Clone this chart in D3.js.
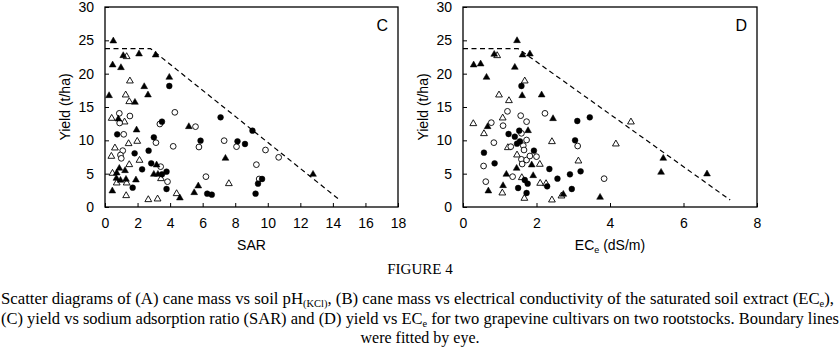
<!DOCTYPE html>
<html><head><meta charset="utf-8">
<script src="https://cdn.jsdelivr.net/npm/d3@7"></script>
<style>body{margin:0;background:#fff}svg{display:block}</style>
</head><body>
<svg id="chart" width="840" height="347"></svg>
<script>
// ---------- data ----------
const yTicks = [0,5,10,15,20,25,30];
const sarTicks = [0,2,4,6,8,10,12,14,16,18];
const ecTicks = [0,2,4,6,8];

// Panel C : yield vs SAR   [SAR, yield]
const cFilledTri = [[0.51,24.9],[0.47,21.3],[0.98,20.9],[1.12,22.7],[2.09,22.95],[3.11,22.8],[3.95,19.45],[2.41,18.05],[2.64,16.8],[1.84,15.7],[0.25,16.7],[0.82,13.2],[1.94,11.55],[5.15,12.05],[7.4,7.3],[12.78,4.9],[0.88,5.8],[1.23,5.45],[0.72,5.1],[0.7,4.3],[0.95,4.0],[1.29,4.15],[1.9,4.05],[0.45,2.4],[3.17,6.3],[3.0,4.9],[3.25,4.9],[5.73,3.15],[5.48,2.15],[4.6,1.35]];
const cOpenTri = [[1.33,22.55],[1.53,18.9],[1.27,16.8],[1.49,15.8],[0.41,13.3],[1.2,12.75],[0.61,8.85],[1.45,9.5],[1.98,9.85],[0.39,7.6],[2.12,7.0],[1.49,6.35],[0.46,5.05],[0.72,3.6],[1.33,3.6],[3.44,4.25],[7.61,3.5],[1.3,1.7],[2.66,1.1],[3.23,1.2],[4.4,2.0]];
const cOpenCirc = [[0.88,14.05],[1.53,13.65],[0.9,12.6],[3.37,12.45],[4.29,14.2],[5.56,12.05],[3.13,9.65],[1.15,10.9],[4.19,9.1],[5.77,9.0],[7.32,9.95],[8.08,9.05],[9.86,8.55],[10.67,7.45],[9.3,6.35],[9.47,4.2],[1.09,8.45],[0.95,7.8],[1.0,7.3],[3.42,6.05],[3.84,3.8],[6.2,4.55]];
const cFilledCirc = [[3.95,18.15],[3.5,12.8],[7.1,13.45],[9.06,11.45],[0.75,10.9],[3.0,10.45],[5.87,9.95],[8.14,9.85],[8.6,9.45],[1.82,8.05],[2.68,8.45],[2.84,6.55],[2.28,5.65],[3.78,5.3],[3.5,4.9],[1.7,2.9],[3.78,2.7],[6.28,2.0],[6.56,1.85],[9.25,2.0],[9.4,3.5],[9.65,4.2]];
const cBoundary = [[0,23.75],[2.8,23.75],[14.42,1.05]];

// Panel D : yield vs ECe   [ECe, yield]
const dFilledTri = [[1.47,24.95],[0.85,22.9],[1.62,22.8],[1.82,22.95],[0.29,21.3],[0.48,21.45],[1.41,20.95],[0.64,19.45],[1.61,16.7],[2.14,16.8],[2.45,13.25],[0.67,12.05],[1.77,11.45],[1.87,6.3],[1.18,4.9],[1.91,4.7],[1.09,3.2],[0.69,2.4],[1.46,5.8],[5.45,7.3],[5.39,5.2],[6.64,4.95],[3.73,1.45],[2.73,1.9]];
const dOpenTri = [[0.93,22.7],[1.68,18.9],[0.98,16.8],[1.25,15.95],[0.28,12.5],[1.08,13.35],[0.57,11.0],[1.22,8.9],[2.42,9.8],[4.57,12.75],[4.16,9.45],[1.47,7.8],[2.09,6.4],[1.6,4.4],[2.1,3.55],[2.26,3.5],[1.07,2.1],[3.14,6.9],[2.42,1.05],[1.67,1.3],[2.68,1.65]];
const dOpenCirc = [[1.21,14.35],[0.77,12.65],[1.57,13.7],[1.73,12.8],[2.23,14.05],[1.09,12.2],[0.84,9.65],[1.3,9.05],[0.56,6.15],[0.62,3.8],[1.35,4.55],[1.59,11.05],[1.73,10.05],[1.64,9.2],[1.66,8.55],[1.59,7.15],[1.73,7.05],[1.82,7.65],[2.0,7.55],[1.61,6.45],[3.12,9.15],[3.84,4.25]];
const dFilledCirc = [[1.59,18.15],[1.24,10.95],[1.41,10.55],[1.53,11.45],[1.55,9.85],[1.47,9.5],[1.93,8.45],[0.57,8.15],[0.86,6.55],[3.11,12.9],[3.45,13.45],[3.05,10.0],[2.35,5.7],[2.57,4.25],[2.91,4.9],[3.2,5.35],[2.96,2.7],[1.76,3.5],[1.68,4.05],[1.5,2.85],[1.73,2.1],[2.29,3.1]];
const dBoundary = [[0,23.75],[1.5,23.75],[7.27,1.05]];

// ---------- drawing ----------
const svg = d3.select("#chart");
const axisFont = "'Liberation Sans', Arial, sans-serif";
const y = d3.scaleLinear().domain([0,30]).range([207,7]);

function panel(x, ticks, sets, boundary, letter, xlabelFn, ylabelX){
  const g = svg.append("g");
  const [x0,x1] = x.range();
  const ax = g.append("g").attr("transform","translate(0,207)")
    .call(d3.axisBottom(x).tickValues(ticks).tickSize(-4).tickPadding(11).tickFormat(d3.format("d")));
  const ay = g.append("g").attr("transform",`translate(${x0},0)`)
    .call(d3.axisLeft(y).tickValues(yTicks).tickSize(-4).tickPadding(11).tickFormat(d3.format("d")));
  [ax,ay].forEach(a=>{
    a.select(".domain").remove();
    a.selectAll("text").attr("font-family",axisFont).attr("font-size",14).attr("fill","#000");
    a.selectAll("line").attr("stroke","#000");
  });
  g.append("rect").attr("x",x0).attr("y",7).attr("width",x1-x0).attr("height",200)
    .attr("fill","none").attr("stroke","#000").attr("stroke-width",1.3);
  g.append("path").datum(boundary)
    .attr("d", d3.line().x(d=>x(d[0])).y(d=>y(d[1])))
    .attr("fill","none").attr("stroke","#000").attr("stroke-width",1.2).attr("stroke-dasharray","5,3.5");
  const tri = d3.symbol().type(d3.symbolTriangle).size(20);
  const circ = d3.symbol().type(d3.symbolCircle).size(26);
  sets.forEach(s=>{
    g.append("g").selectAll("path").data(s.data).join("path")
      .attr("d", s.shape==="tri" ? tri() : circ())
      .attr("transform", d=>`translate(${x(d[0])},${y(d[1])})`)
      .attr("fill", s.filled ? "#000" : "#fff")
      .attr("stroke","#000").attr("stroke-width", s.filled ? 0.5 : 0.9);
  });
  g.append("text").attr("x",x1-10).attr("y",31).attr("text-anchor","end")
    .attr("font-family",axisFont).attr("font-size",16).text(letter);
  g.append("text").attr("transform",`translate(${ylabelX},107) rotate(-90)`)
    .attr("text-anchor","middle").attr("font-family",axisFont).attr("font-size",14).text("Yield (t/ha)");
  xlabelFn(g, (x0+x1)/2);
}

const xC = d3.scaleLinear().domain([0,18]).range([105,398]);
const xD = d3.scaleLinear().domain([0,8]).range([463,757]);

panel(xC, sarTicks, [
  {data:cOpenTri, shape:"tri", filled:false},
  {data:cOpenCirc, shape:"circ", filled:false},
  {data:cFilledCirc, shape:"circ", filled:true},
  {data:cFilledTri, shape:"tri", filled:true}
], cBoundary, "C", (g,cx)=>{
  g.append("text").attr("x",cx).attr("y",250).attr("text-anchor","middle")
   .attr("font-family",axisFont).attr("font-size",14).text("SAR");
}, 70);

panel(xD, ecTicks, [
  {data:dOpenTri, shape:"tri", filled:false},
  {data:dOpenCirc, shape:"circ", filled:false},
  {data:dFilledCirc, shape:"circ", filled:true},
  {data:dFilledTri, shape:"tri", filled:true}
], dBoundary, "D", (g,cx)=>{
  const t = g.append("text").attr("x",cx).attr("y",250).attr("text-anchor","middle")
   .attr("font-family",axisFont).attr("font-size",14);
  t.append("tspan").text("EC");
  t.append("tspan").attr("font-size",9).attr("dy",3).text("e");
  t.append("tspan").attr("dy",-3).text(" (dS/m)");
}, 428);

// ---------- caption ----------
const capFont = "'Liberation Serif', 'Times New Roman', serif";
svg.append("text").attr("x",420).attr("y",274).attr("text-anchor","middle")
  .attr("font-family",capFont).attr("font-size",15).text("FIGURE 4");

function capLine(yy, parts, len){
  const t = svg.append("text").attr("x",1).attr("y",yy).attr("font-family",capFont).attr("font-size",16)
    .attr("textLength",len).attr("lengthAdjust","spacingAndGlyphs");
  let shift = 0;
  parts.forEach(p=>{
    if (typeof p === "string") { t.append("tspan").attr("dy", -shift).text(p); shift = 0; }
    else { t.append("tspan").attr("font-size",10).attr("dy",3).text(p.sub); shift = 3; }
  });
}
capLine(304, ["Scatter diagrams of (A) cane mass vs soil pH",{sub:"(KCl)"},", (B) cane mass vs electrical conductivity of the saturated soil extract (EC",{sub:"e"},"),"], 833);
capLine(324, ["(C) yield vs sodium adsorption ratio (SAR) and (D) yield vs EC",{sub:"e"}," for two grapevine cultivars on two rootstocks. Boundary lines"], 838);
svg.append("text").attr("x",420).attr("y",343).attr("text-anchor","middle")
  .attr("font-family",capFont).attr("font-size",16).text("were fitted by eye.");
</script>
</body></html>
